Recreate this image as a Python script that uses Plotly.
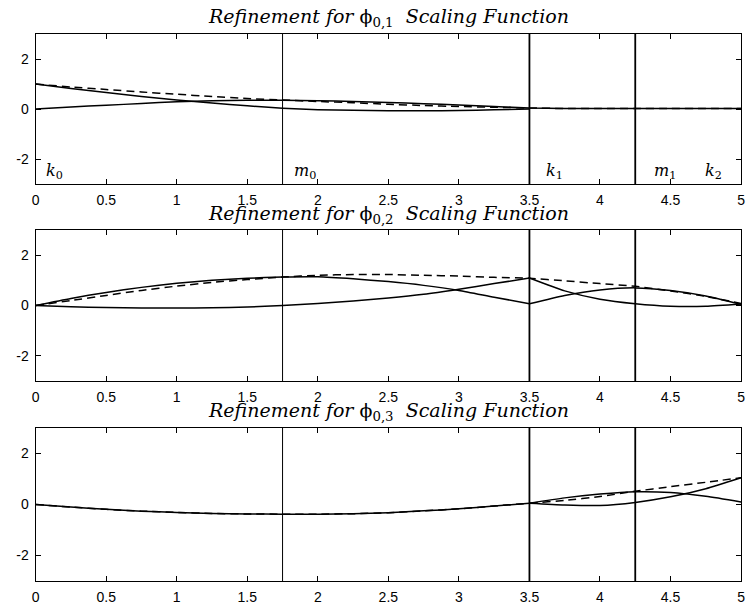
import plotly.graph_objects as go

# ---------------- data ----------------
X_LEFT = [0, 0.25, 0.5, 0.75, 1.0, 1.25, 1.5, 1.75, 2.0, 2.25, 2.5, 2.75, 3.0, 3.25, 3.5]
X_RIGHT = [3.5, 3.75, 4.0, 4.25, 4.5, 4.75, 5.0]
X_FULL = X_LEFT + X_RIGHT[1:]

# panel 1 : phi_{0,1}
P1_DASHED = [1.0, 0.88, 0.78, 0.68, 0.59, 0.5, 0.42, 0.36, 0.3, 0.25, 0.19, 0.14, 0.1, 0.07, 0.04,
             0.02, 0.02, 0.02, 0.02, 0.02, 0.02]
P1_SOLID_A = [1.0, 0.82, 0.66, 0.5, 0.36, 0.24, 0.13, 0.03, -0.03, -0.05, -0.07, -0.07, -0.06, -0.03, 0.0]
P1_SOLID_B = [0.0, 0.08, 0.15, 0.22, 0.29, 0.33, 0.35, 0.35, 0.33, 0.3, 0.26, 0.21, 0.16, 0.1, 0.04,
              0.02, 0.02, 0.02, 0.02, 0.02, 0.02]

# panel 2 : phi_{0,2}
P2_DASHED = [0.0, 0.2, 0.4, 0.6, 0.77, 0.92, 1.03, 1.13, 1.2, 1.23, 1.23, 1.2, 1.17, 1.12, 1.08,
             0.98, 0.87, 0.76, 0.58, 0.36, 0.08]
P2_SOLID_C = [0.0, 0.28, 0.52, 0.72, 0.88, 1.0, 1.08, 1.13, 1.14, 1.06, 0.95, 0.8, 0.6, 0.33, 0.07]
P2_SOLID_D = [0.0, -0.05, -0.08, -0.1, -0.1, -0.09, -0.06, 0.0, 0.08, 0.18, 0.3, 0.45, 0.65, 0.87, 1.09]
P2_SOLID_E = [1.09, 0.58, 0.25, 0.07, -0.03, -0.03, 0.06]
P2_SOLID_F = [0.07, 0.4, 0.62, 0.7, 0.6, 0.38, 0.05]

# panel 3 : phi_{0,3}
P3_LEFT = [0.0, -0.1, -0.19, -0.26, -0.31, -0.35, -0.37, -0.38, -0.38, -0.36, -0.32, -0.25, -0.17, -0.06, 0.05]
P3_DASHED_R = [0.05, 0.16, 0.31, 0.52, 0.7, 0.87, 1.05]
P3_SOLID_G = [0.05, 0.26, 0.41, 0.5, 0.47, 0.32, 0.1]
P3_SOLID_H = [0.05, -0.02, -0.04, 0.08, 0.3, 0.62, 1.05]

KNOTS_THIN = [1.75]
KNOTS_THICK = [3.5, 4.25]
X_TICKS = [0, 0.5, 1, 1.5, 2, 2.5, 3, 3.5, 4, 4.5, 5]
X_TICK_TEXT = ["0", "0.5", "1", "1.5", "2", "2.5", "3", "3.5", "4", "4.5", "5"]
Y_TICKS = [-2, 0, 2]
Y_TICK_TEXT = ["-2", "0", "2"]
TITLES = ["0,1", "0,2", "0,3"]
LABELS = [("k", "0", 0.06), ("m", "0", 1.82), ("k", "1", 3.6), ("m", "1", 4.37), ("k", "2", 4.73)]

# ---------------- figure ----------------
W, H = 751, 609
fig = go.Figure()

solid = dict(color="black", width=1.5, shape="spline", smoothing=0.6)
dashed = dict(color="black", width=1.5, dash="8px,5px", shape="spline", smoothing=0.6)


def add(x, y, line, i):
    ax = "" if i == 1 else str(i)
    fig.add_trace(go.Scatter(x=x, y=y, mode="lines", line=line, xaxis="x" + ax, yaxis="y" + ax,
                             showlegend=False, hoverinfo="skip"))


add(X_FULL, P1_SOLID_B, solid, 1)
add(X_LEFT, P1_SOLID_A, solid, 1)
add(X_FULL, P1_DASHED, dashed, 1)

add(X_LEFT, P2_SOLID_C, solid, 2)
add(X_LEFT, P2_SOLID_D, solid, 2)
add(X_RIGHT, P2_SOLID_E, solid, 2)
add(X_RIGHT, P2_SOLID_F, solid, 2)
add(X_FULL, P2_DASHED, dashed, 2)

add(X_LEFT, P3_LEFT, solid, 3)
add(X_LEFT, P3_LEFT, dashed, 3)
add(X_RIGHT, P3_SOLID_G, solid, 3)
add(X_RIGHT, P3_SOLID_H, solid, 3)
add(X_RIGHT, P3_DASHED_R, dashed, 3)

# panel boxes in pixels (top, bottom)
boxes = [(34, 184), (230, 381), (428, 581)]
x0p, x1p = 32, 745
tickfont = dict(family="Liberation Sans Narrow, Liberation Sans, Arial", size=14, color="black")
serif = "DejaVu Serif, Liberation Serif, serif"

layout = dict(width=W, height=H, margin=dict(l=0, r=0, t=0, b=0),
              paper_bgcolor="white", plot_bgcolor="white", showlegend=False)
shapes = []
annotations = []
for i, (top, bot) in enumerate(boxes, start=1):
    ax = "" if i == 1 else str(i)
    xa = dict(domain=[x0p / W, x1p / W], range=[0, 5], anchor="y" + ax,
              tickvals=X_TICKS, ticktext=X_TICK_TEXT, ticks="inside", ticklen=5,
              tickcolor="black", showline=True, linecolor="black", linewidth=1.3, mirror="ticks",
              showgrid=False, zeroline=False, tickfont=tickfont, fixedrange=True,
              ticklabelstandoff=3)
    ya = dict(domain=[1 - bot / H, 1 - top / H], range=[-3, 3], anchor="x" + ax,
              tickvals=Y_TICKS, ticktext=Y_TICK_TEXT, ticks="inside", ticklen=5,
              tickcolor="black", showline=True, linecolor="black", linewidth=1.3, mirror="ticks",
              showgrid=False, zeroline=False, tickfont=tickfont, fixedrange=True,
              ticklabelstandoff=3)
    layout["xaxis" + ax] = xa
    layout["yaxis" + ax] = ya
    for k in KNOTS_THIN:
        shapes.append(dict(type="line", xref="x" + ax, yref="y" + ax + " domain", x0=k, x1=k, y0=0, y1=1,
                           line=dict(color="black", width=1)))
    for k in KNOTS_THICK:
        shapes.append(dict(type="line", xref="x" + ax, yref="y" + ax + " domain", x0=k, x1=k, y0=0, y1=1,
                           line=dict(color="black", width=1.8)))
    annotations.append(dict(
        text="<i>Refinement for </i>ϕ<sub>" + TITLES[i - 1] + "</sub><i>  Scaling Function</i>",
        xref="paper", yref="paper", x=(x0p + x1p) / 2 / W, y=1 - (top - 16) / H,
        xanchor="center", yanchor="middle", showarrow=False,
        font=dict(family=serif, size=19, color="black")))

for letter, sub, xpos in LABELS:
    annotations.append(dict(text="<i>" + letter + "</i><sub>" + sub + "</sub>", xref="x", yref="y",
                            x=xpos, y=-2.5, xanchor="left", yanchor="middle", showarrow=False,
                            font=dict(family=serif, size=16, color="black")))

layout["shapes"] = shapes
layout["annotations"] = annotations
fig.update_layout(**layout)
fig.write_html("out.html")
